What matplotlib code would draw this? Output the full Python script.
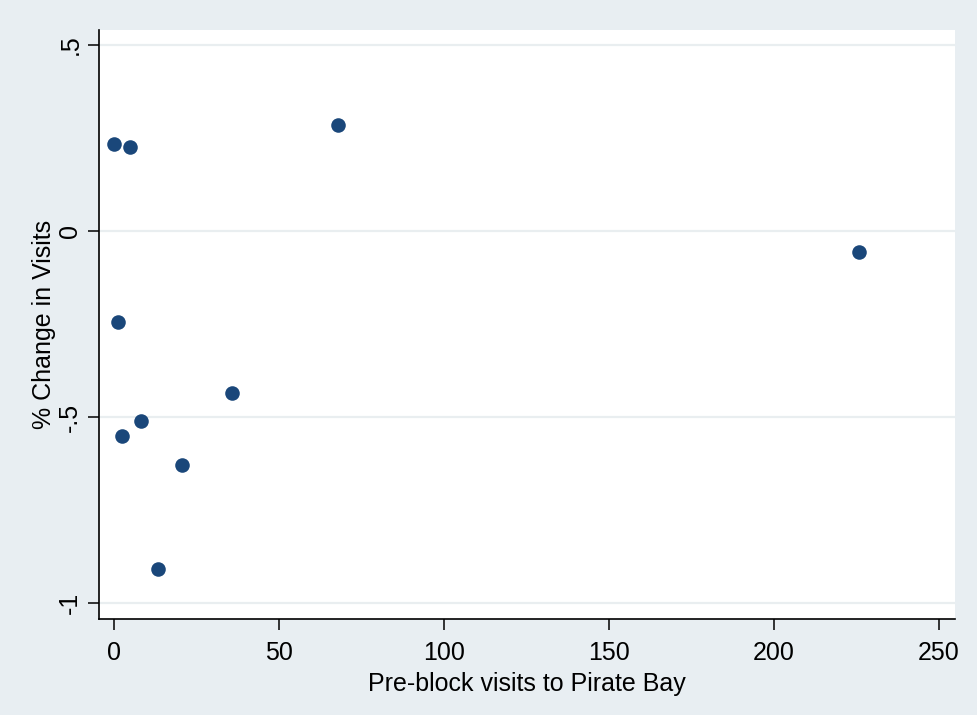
import matplotlib.pyplot as plt

plt.rcParams['font.family'] = ['Liberation Sans', 'DejaVu Sans']

# pre-block visits vs. percent change in visits
visits = [0.0, 4.9, 68.0, 226.0, 1.2, 35.8, 8.2, 2.5, 20.7, 13.5]
change = [0.234, 0.226, 0.285, -0.056, -0.245, -0.435, -0.511, -0.552, -0.630, -0.909]

yticks = [-1, -0.5, 0, 0.5]
ytick_labels = ["-1", "-.5", "0", ".5"]
xticks = [0, 50, 100, 150, 200, 250]

bg = "#e8eef2"
fig = plt.figure(figsize=(9.78, 7.15), dpi=100, facecolor=bg)
ax = fig.add_axes([0.1012, 0.1343, 0.8753, 0.8237])
ax.set_facecolor("white")

ax.scatter(visits, change, s=110, color="#1a477a", zorder=3, linewidths=0)

ax.set_xlim(-4.5, 255)
ax.set_ylim(-1.043, 0.54)
ax.set_xticks(xticks)
ax.set_yticks(yticks)
ax.set_yticklabels(ytick_labels, rotation=90, va="center")

for y in yticks:
    ax.axhline(y, color="#e9eef0", lw=1.6, zorder=1)

for s in ["top", "right"]:
    ax.spines[s].set_visible(False)
for s in ["left", "bottom"]:
    ax.spines[s].set_color("black")
    ax.spines[s].set_linewidth(1.2)

ax.tick_params(axis="both", length=8, width=1.1, labelsize=18, colors="black")
ax.tick_params(axis="y", pad=4)
ax.tick_params(axis="x", pad=8)

ax.set_xlabel("Pre-block visits to Pirate Bay", fontsize=18, labelpad=5)
ax.set_ylabel("% Change in Visits", fontsize=18, labelpad=2)

fig.savefig("out.png", dpi=100, facecolor=bg)
